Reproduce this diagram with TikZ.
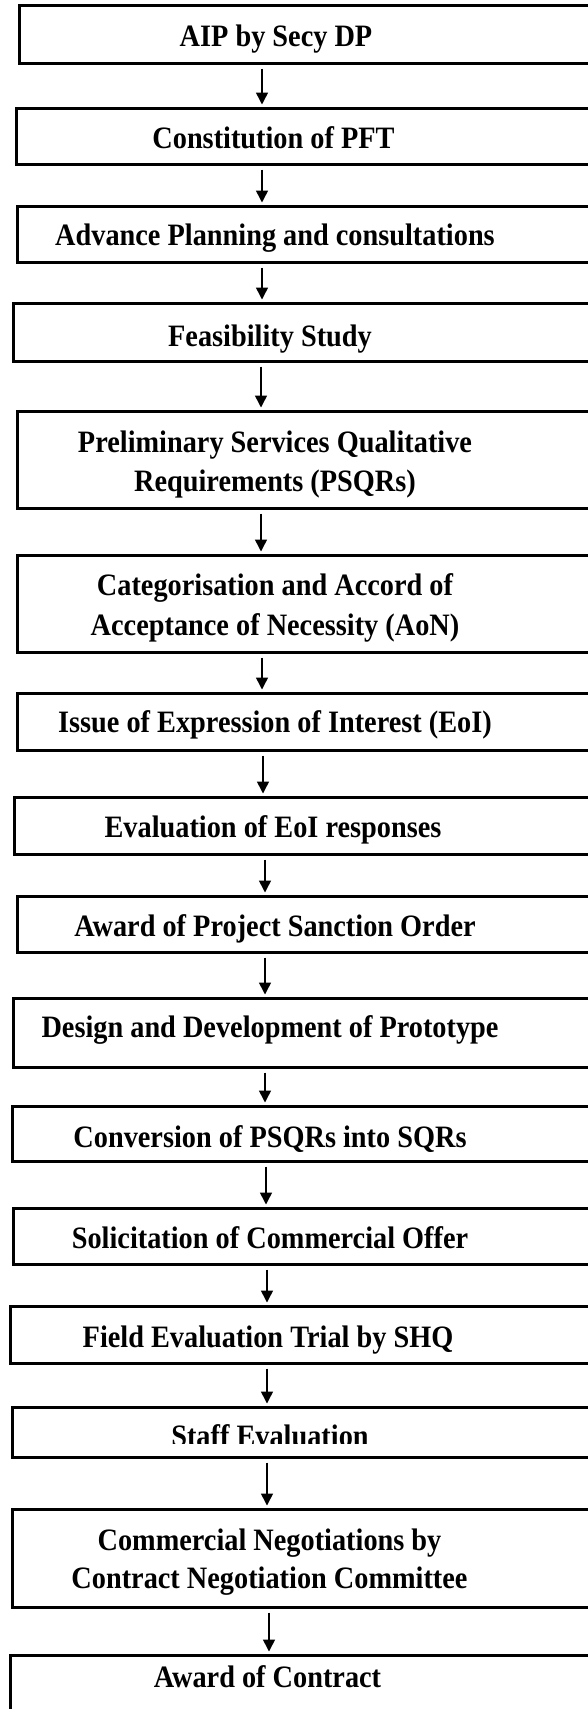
\documentclass[tikz,border=0pt]{standalone}
\usepackage{fontspec}
\setmainfont{Liberation Serif}
\usetikzlibrary{arrows.meta}
\newcommand\stepnode[4]{%
  \pgfmathsetmacro\bw{605-#2}%
  \pgfmathsetmacro\bh{#4-#3}%
  \pgfmathsetmacro\bcx{(605+#2)/2}%
  \pgfmathsetmacro\bcy{(#3+#4)/2}%
  \node[stepbox, minimum width=\bw pt, minimum height=\bh pt] (#1) at (\bcx,\bcy) {};}
\newcommand\tall[1]{\scalebox{1}[1.1]{#1}}
\begin{document}
\begin{tikzpicture}[x=1pt,y=-1pt,
  stepbox/.style={draw=black, line width=3pt, rectangle, inner sep=0pt, fill=white},
  txt/.style={anchor=base, inner sep=0pt, font=\fontsize{28.3}{34}\selectfont\bfseries},
  arr/.style={-{Triangle[width=12pt,length=12pt]}, line width=1.5pt, shorten <=4pt, shorten >=2pt}]
\useasboundingbox (0,0) rectangle (588,1709);
\clip (0,0) rectangle (588,1709);
\fill[white] (0,0) rectangle (588,1709);
\stepnode{b1}{19.5}{5}{63}
\stepnode{b2}{16.5}{108}{164}
\stepnode{b3}{17.5}{206}{262}
\stepnode{b4}{13.5}{303}{361}
\stepnode{b5}{17.5}{411}{508}
\stepnode{b6}{17.5}{555}{652}
\stepnode{b7}{17.5}{693}{750}
\stepnode{b8}{14.5}{797}{854}
\stepnode{b9}{17.5}{896}{952}
\stepnode{b10}{13.5}{998}{1067}
\stepnode{b11}{12.5}{1106}{1161}
\stepnode{b12}{13.5}{1208}{1264}
\stepnode{b13}{10.5}{1306}{1363}
\stepnode{b14}{12.5}{1407}{1457}
\stepnode{b15}{12.5}{1509}{1607}
\stepnode{b16}{10.5}{1655}{1760}
\node[txt] (t1) at (276,46) {\tall{AIP by Secy DP}};
\node[txt] (t2) at (273.5,148) {\tall{Constitution of PFT}};
\node[txt] (t3) at (275,245) {\tall{Advance Planning and consultations}};
\node[txt] (t4) at (270,346) {\tall{Feasibility Study}};
\node[txt] (t5a) at (275,452) {\tall{Preliminary Services Qualitative}};
\node[txt] (t5b) at (275,491) {\tall{Requirements (PSQRs)}};
\node[txt] (t6a) at (275,595) {\tall{Categorisation and Accord of}};
\node[txt] (t6b) at (275,635) {\tall{Acceptance of Necessity (AoN)}};
\node[txt] (t7) at (275,732) {\tall{Issue of Expression of Interest (EoI)}};
\node[txt] (t8) at (273,837) {\tall{Evaluation of EoI responses}};
\node[txt] (t9) at (275,936) {\tall{Award of Project Sanction Order}};
\node[txt] (t10) at (270,1037) {\tall{Design and Development of Prototype}};
\node[txt] (t11) at (270,1147) {\tall{Conversion of PSQRs into SQRs}};
\node[txt] (t12) at (270,1248) {\tall{Solicitation of Commercial Offer}};
\node[txt] (t13) at (268,1347) {\tall{Field Evaluation Trial by SHQ}};
\begin{scope}
  \clip (0,1400) rectangle (588,1443);
  \node[txt] (t14) at (270,1446) {\tall{Staff Evaluation}};
\end{scope}
\node[txt] (t15a) at (269.5,1550) {\tall{Commercial Negotiations by}};
\node[txt] (t15b) at (269.5,1588) {\tall{Contract Negotiation Committee}};
\node[txt] (t16) at (267.5,1687) {\tall{Award of Contract}};
\draw[arr] (b1.south -| 262,0) -- (b2.north -| 262,0);
\draw[arr] (b2.south -| 262,0) -- (b3.north -| 262,0);
\draw[arr] (b3.south -| 262,0) -- (b4.north -| 262,0);
\draw[arr] (b4.south -| 261,0) -- (b5.north -| 261,0);
\draw[arr] (b5.south -| 261,0) -- (b6.north -| 261,0);
\draw[arr] (b6.south -| 262,0) -- (b7.north -| 262,0);
\draw[arr] (b7.south -| 263,0) -- (b8.north -| 263,0);
\draw[arr] (b8.south -| 265,0) -- (b9.north -| 265,0);
\draw[arr] (b9.south -| 265,0) -- (b10.north -| 265,0);
\draw[arr] (b10.south -| 265,0) -- (b11.north -| 265,0);
\draw[arr] (b11.south -| 266,0) -- (b12.north -| 266,0);
\draw[arr] (b12.south -| 267,0) -- (b13.north -| 267,0);
\draw[arr] (b13.south -| 267,0) -- (b14.north -| 267,0);
\draw[arr] (b14.south -| 267,0) -- (b15.north -| 267,0);
\draw[arr] (b15.south -| 269,0) -- (b16.north -| 269,0);
\end{tikzpicture}
\end{document}
